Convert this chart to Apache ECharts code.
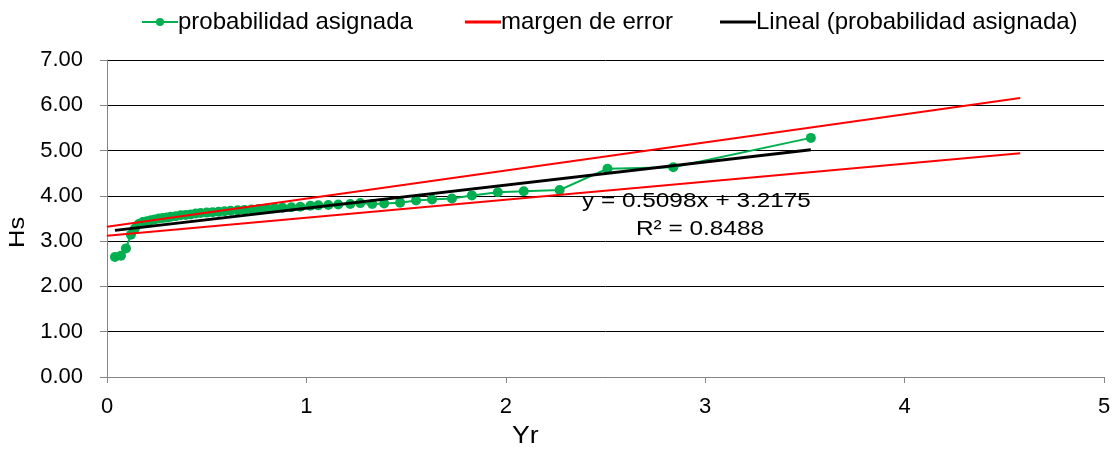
<!DOCTYPE html>
<html>
<head>
<meta charset="utf-8">
<script src="https://cdn.jsdelivr.net/npm/echarts@6/dist/echarts.min.js"></script>
<style>
  html, body { margin: 0; padding: 0; background: #fff; }
  #chart { width: 1117px; height: 453px; }
</style>
</head>
<body>
<div id="chart"></div>
<script>
// Reduced variate Yr and wave height Hs of each ranked observation
const yrValues = [0.04, 0.07, 0.095, 0.12, 0.14, 0.16, 0.18, 0.20, 0.22, 0.24, 0.26, 0.28, 0.30, 0.32,
  0.345, 0.37, 0.395, 0.42, 0.445, 0.47, 0.50, 0.53, 0.56, 0.59, 0.62, 0.655, 0.69, 0.725, 0.76, 0.80,
  0.84, 0.88, 0.925, 0.97, 1.02, 1.06, 1.11, 1.16, 1.22, 1.27, 1.33, 1.39, 1.47, 1.55, 1.63, 1.73,
  1.83, 1.96, 2.09, 2.27, 2.51, 2.84, 3.53];
const hsValues = [2.65, 2.68, 2.84, 3.14, 3.28, 3.38, 3.42, 3.44, 3.46, 3.48, 3.50, 3.51, 3.52, 3.54,
  3.55, 3.57, 3.58, 3.59, 3.61, 3.62, 3.63, 3.64, 3.65, 3.66, 3.67, 3.68, 3.69, 3.70, 3.71, 3.72,
  3.73, 3.74, 3.75, 3.76, 3.78, 3.79, 3.80, 3.81, 3.82, 3.84, 3.82, 3.83, 3.85, 3.90, 3.92, 3.94,
  4.01, 4.08, 4.10, 4.13, 4.60, 4.63, 5.28];

// Error margin bounds (end points of each straight band edge)
const marginUpper = [[0, 3.32], [4.58, 6.16]];
const marginLower = [[0, 3.12], [4.58, 4.94]];

// Linear fit: y = slope * x + intercept
const trendSlope = 0.5098;
const trendIntercept = 3.2175;
const trendR2 = 0.8488;

const seriesNames = ['probabilidad asignada', 'margen de error', 'Lineal (probabilidad asignada)'];
const yTicks = [0, 1, 2, 3, 4, 5, 6, 7];
const xTicks = [0, 1, 2, 3, 4, 5];

const FONT = '"Liberation Sans", Arial, sans-serif';
const TEXT_STRETCH = 1.16;

const observed = yrValues.map((x, i) => [x, hsValues[i]]);
const xMin = Math.min(...yrValues), xMax = Math.max(...yrValues);
const trend = [xMin, xMax].map(x => [x, trendSlope * x + trendIntercept]);

const chart = echarts.init(document.getElementById('chart'), null, { renderer: 'canvas' });

const legendBase = {
  orient: 'horizontal',
  top: 5,
  itemWidth: 36,
  itemHeight: 10,
  itemGap: 4,
  textStyle: { fontFamily: FONT, fontSize: 24, color: '#000', padding: [0, 0, 0, -5] },
  selectedMode: false
};
const barIcon = 'path://M0,0 H36 V3 H0 Z';

// Free text drawn with a slight horizontal stretch
function label(text, x, y, size, opts) {
  return Object.assign({
    type: 'text', x: x, y: y, scaleX: TEXT_STRETCH, silent: true,
    style: { text: text, font: size + 'px ' + FONT, fill: '#000', align: 'left', verticalAlign: 'middle' }
  }, opts || {});
}

chart.setOption({
  animation: false,
  backgroundColor: '#fff',
  legend: [
    Object.assign({}, legendBase, { left: 136, data: [seriesNames[0]] }),
    Object.assign({}, legendBase, { left: 460, itemHeight: 3, data: [{ name: seriesNames[1], icon: barIcon }] }),
    Object.assign({}, legendBase, { left: 715, itemHeight: 3, data: [{ name: seriesNames[2], icon: barIcon }] })
  ],
  grid: { left: 107, right: 13, top: 60, bottom: 76, containLabel: false },
  xAxis: {
    type: 'value',
    min: xTicks[0],
    max: xTicks[xTicks.length - 1],
    interval: 1,
    axisLine: { show: true, onZero: false, lineStyle: { color: '#868686', width: 1 } },
    axisTick: { show: true, inside: false, length: 6, lineStyle: { color: '#868686' } },
    axisLabel: { margin: 19, fontFamily: FONT, fontSize: 22, color: '#000' },
    splitLine: { show: false }
  },
  yAxis: {
    type: 'value',
    min: yTicks[0],
    max: yTicks[yTicks.length - 1],
    interval: 1,
    axisLine: { show: true, onZero: false, lineStyle: { color: '#868686', width: 1 } },
    axisTick: { show: true, inside: false, length: 7, lineStyle: { color: '#868686' } },
    axisLabel: {
      margin: 24, fontFamily: FONT, fontSize: 22, color: '#000',
      formatter: v => v.toFixed(2)
    },
    splitLine: { show: true, lineStyle: { color: '#000', width: 1 } }
  },
  graphic: [
    label('y = ' + trendSlope.toFixed(4) + 'x + ' + trendIntercept.toFixed(4), 582, 201, 21),
    label('R² = ' + trendR2.toFixed(4), 636, 229, 21),
    label('Yr', 512, 437, 23),
    label('Hs', 18, 248, 22, { rotation: Math.PI / 2, scaleX: TEXT_STRETCH })
  ],
  series: [
    {
      name: seriesNames[0],
      type: 'line',
      data: observed,
      z: 3,
      symbol: 'circle',
      symbolSize: 10,
      showSymbol: true,
      itemStyle: { color: '#00B050' },
      lineStyle: { color: '#00B050', width: 2 }
    },
    {
      name: seriesNames[1],
      type: 'line',
      data: marginUpper,
      z: 4,
      symbol: 'none',
      itemStyle: { color: '#FF0000' },
      lineStyle: { color: '#FF0000', width: 2 }
    },
    {
      name: seriesNames[1],
      type: 'line',
      data: marginLower,
      z: 4,
      symbol: 'none',
      itemStyle: { color: '#FF0000' },
      lineStyle: { color: '#FF0000', width: 2 }
    },
    {
      name: seriesNames[2],
      type: 'line',
      data: trend,
      z: 5,
      symbol: 'none',
      itemStyle: { color: '#000' },
      lineStyle: { color: '#000', width: 3 }
    }
  ]
});
</script>
</body>
</html>
